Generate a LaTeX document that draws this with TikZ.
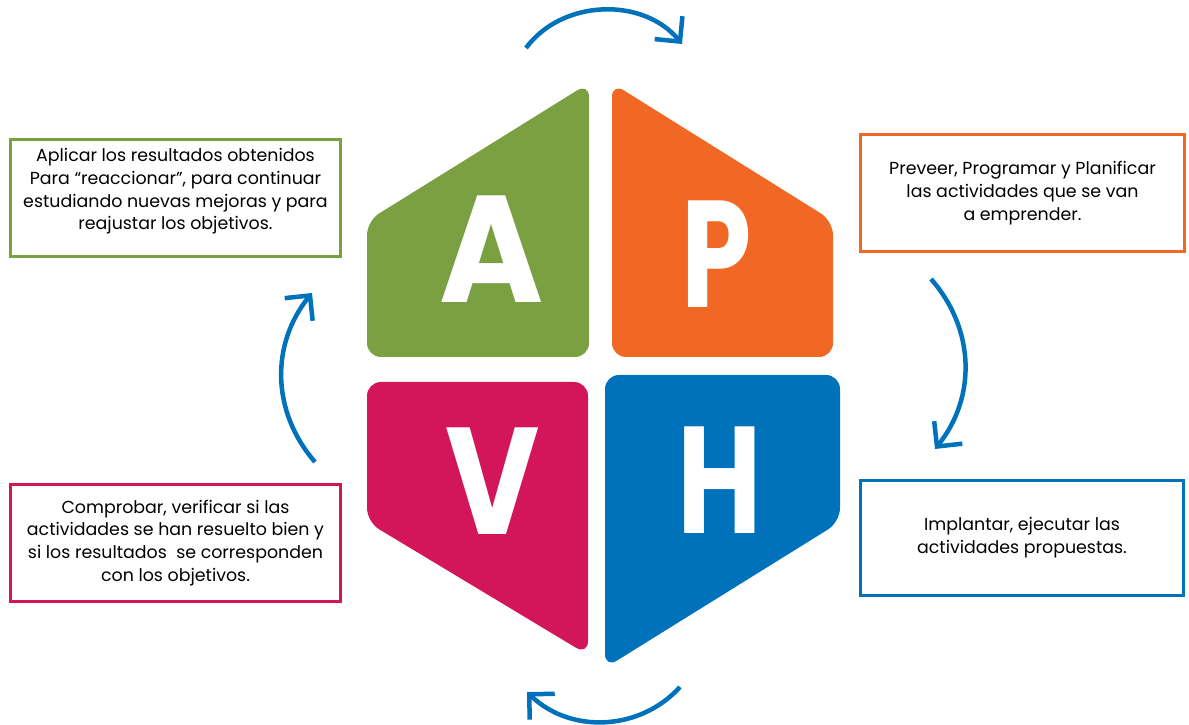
\documentclass[tikz,border=0pt]{standalone}
\usepackage{fontspec}
\setmainfont{Poppins}
\usetikzlibrary{arrows.meta, positioning}

\definecolor{verdeA}{RGB}{122,160,66}
\definecolor{naranjaP}{RGB}{241,104,36}
\definecolor{rosaV}{RGB}{211,21,90}
\definecolor{azulH}{RGB}{0,114,188}

\tikzset{
    pieza/.style={rounded corners=14pt},
    letra/.style={text=white, inner sep=0pt, anchor=base,
        font=\fontsize{152}{152}\selectfont\bfseries},
    caja/.style={draw=#1, line width=3pt, fill=white, align=center, inner sep=0pt,
        minimum width=330pt, minimum height=117pt,
        font=\fontsize{17.4}{22.8}\selectfont},
    ciclo/.style={draw=azulH, line width=4.5pt,
        arrows={-{Straight Barb[length=18pt, width=36pt]}}},
}

\begin{document}
\begin{tikzpicture}[x=1pt, y=1pt]
        \useasboundingbox (0, 0) rectangle (1189, 725);
        \fill [verdeA, pieza] (478, 368) -- (367, 368) -- (367, 504) -- (589, 642) -- (589, 368) -- cycle;
        \fill [naranjaP, pieza] (722, 368) -- (612, 368) -- (612, 642) -- (833, 504) -- (833, 368) -- cycle;
        \fill [rosaV, pieza] (478, 343) -- (367, 343) -- (367, 203) -- (588, 70) -- (588, 343) -- cycle;
        \fill [azulH, pieza] (722, 350) -- (605, 350) -- (605, 57) -- (840, 203) -- (840, 350) -- cycle;
        \node [letra] (letraA) at (492, 422) {\scalebox{0.93}[1]{A}};
        \node [letra] (letraP) at (717, 417) {\scalebox{0.74}[1]{P}};
        \node [letra] (letraV) at (493, 190) {\scalebox{0.85}[1]{V}};
        \node [letra] (letraH) at (720, 191) {\scalebox{0.76}[1]{H}};
        \node [caja=verdeA, text depth=18pt] (cajaA) at (175.5, 527) {Aplicar los resultados obtenidos\\
            Para “reaccionar”, para continuar\\ estudiando nuevas mejoras y para\\ reajustar los objetivos.};
        \node [caja=naranjaP, minimum width=324pt] (cajaP) at (1022.5, 532) {Preveer, Programar y Planificar\\
            las actividades que se van\\ a emprender.};
        \node [caja=azulH, minimum width=323pt, minimum height=115pt] (cajaH) at (1022, 187)
            {Implantar, ejecutar las\\ actividades propuestas.};
        \node [caja=rosaV] (cajaV) at (175.5, 182) {Comprobar, verificar si las\\
            actividades se han resuelto bien y\\ si los resultados \ se corresponden\\ con los objetivos.};
        \coordinate (arribaIni) at (526, 677);
        \coordinate (arribaFin) at (682, 681);
        \coordinate (derIni) at (931, 446);
        \coordinate (derFin) at (935, 276);
        \coordinate (abajoIni) at (680, 38);
        \coordinate (abajoFin) at (527, 33);
        \coordinate (izqIni) at (315, 263);
        \coordinate (izqFin) at (312, 432);
        \draw [ciclo] (arribaIni) to [bend left=52] (arribaFin);
        \draw [ciclo] (derIni) to [bend left=40] (derFin);
        \draw [ciclo] (abajoIni) to [bend left=46] (abajoFin);
        \draw [ciclo] (izqIni) to [bend left=40] (izqFin);
    \end{tikzpicture}
\end{document}
